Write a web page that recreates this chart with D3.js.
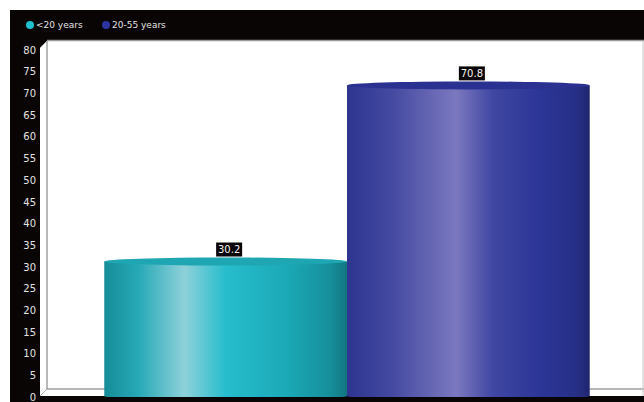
<!DOCTYPE html>
<html>
<head>
<meta charset="utf-8">
<script src="https://cdn.jsdelivr.net/npm/d3@7"></script>
<style>
  html, body { margin: 0; padding: 0; background: #ffffff; }
  svg { display: block; }
</style>
</head>
<body>
<svg id="chart" width="644" height="402"></svg>
<script>
// Age groups and their values
const categories = ["<20 years", "20-55 years"];
const values = [30.2, 70.8];
const yTicks = [0, 5, 10, 15, 20, 25, 30, 35, 40, 45, 50, 55, 60, 65, 70, 75, 80];

const W = 644, H = 402;
const depth = 7;           // 3D depth offset of the plot box
const svg = d3.select("#chart");

// Scales
const y = d3.scaleLinear().domain([0, 80]).range([396, 49]);
const x = d3.scaleBand().domain(categories).range([46, 648]).paddingInner(0).paddingOuter(0.24);

const color = d3.scaleOrdinal().domain(categories).range(["#1fb5c4", "#2c3494"]);

const defs = svg.append("defs");
const gradStops = {
  "<20 years": [
    [0, "#168c98"], [0.14, "#26a9b6"], [0.33, "#8ed1da"], [0.5, "#27bdcc"],
    [0.75, "#1ba9b7"], [0.93, "#168f9b"], [1, "#117581"]
  ],
  "20-55 years": [
    [0, "#2d3590"], [0.18, "#4349a0"], [0.45, "#7b78bf"], [0.6, "#4047a2"],
    [0.8, "#2b3596"], [0.94, "#273087"], [1, "#1f2670"]
  ]
};
categories.forEach((c, i) => {
  const g = defs.append("linearGradient")
    .attr("id", "cyl" + i)
    .attr("x1", "0%").attr("x2", "100%").attr("y1", "0%").attr("y2", "0%");
  gradStops[c].forEach(s => g.append("stop").attr("offset", s[0]).attr("stop-color", s[1]));
});

// Dark frame
svg.append("rect").attr("x", 10).attr("y", 10).attr("width", W - 10).attr("height", H - 10).attr("fill", "#0a0505");

// Plot box: back wall, side wall and floor
const backLeft = 47, backTop = 41, backBottom = 389;
const frontLeft = 40, frontTop = 48, frontBottom = 396;
svg.append("path")
  .attr("d", `M${frontLeft},${frontTop} L${backLeft},${backTop} L${W},${backTop} L${W},${frontBottom} L${frontLeft},${frontBottom} Z`)
  .attr("fill", "#ffffff");
svg.append("line").attr("x1", backLeft).attr("y1", backTop - 0.5).attr("x2", W).attr("y2", backTop - 0.5)
  .attr("stroke", "#9a9a9a").attr("stroke-width", 1.5);
svg.append("line").attr("x1", backLeft).attr("y1", backTop).attr("x2", backLeft).attr("y2", backBottom)
  .attr("stroke", "#a0a0a0").attr("stroke-width", 1.5);
svg.append("line").attr("x1", backLeft).attr("y1", backBottom).attr("x2", W).attr("y2", backBottom)
  .attr("stroke", "#a0a0a0").attr("stroke-width", 1.5);
svg.append("line").attr("x1", frontLeft).attr("y1", frontTop).attr("x2", backLeft).attr("y2", backTop)
  .attr("stroke", "#b0b0b0").attr("stroke-width", 1);
svg.append("line").attr("x1", frontLeft).attr("y1", frontBottom).attr("x2", backLeft).attr("y2", backBottom)
  .attr("stroke", "#b0b0b0").attr("stroke-width", 1);
svg.append("line").attr("x1", W - 1).attr("y1", backTop).attr("x2", W - 1).attr("y2", frontBottom)
  .attr("stroke", "#c8c8c8").attr("stroke-width", 1);

// Cylinders
const ry = 4;
const bars = svg.append("g");
categories.forEach((c, i) => {
  const x0 = x(c), bw = x.bandwidth();
  const topY = y(values[i]) - depth / 2;
  const botY = frontBottom;
  const g = bars.append("g");
  g.append("path")
    .attr("d", `M${x0},${topY} L${x0},${botY} A${bw / 2},${ry} 0 0 0 ${x0 + bw},${botY} L${x0 + bw},${topY} Z`)
    .attr("fill", `url(#cyl${i})`);
  g.append("ellipse")
    .attr("cx", x0 + bw / 2).attr("cy", topY)
    .attr("rx", bw / 2).attr("ry", ry)
    .attr("fill", i === 0 ? "#1ea6b3" : "#2a3190");
});

// Value labels
categories.forEach((c, i) => {
  const cx = x(c) + x.bandwidth() / 2 + 3.5;
  const topY = y(values[i]) - depth / 2 - ry;
  const bw = 26, bh = 14;
  svg.append("rect")
    .attr("x", cx - bw / 2).attr("y", topY - bh - 1)
    .attr("width", bw).attr("height", bh)
    .attr("fill", "#0a0505");
  svg.append("text")
    .attr("x", cx).attr("y", topY - bh / 2 - 1)
    .attr("text-anchor", "middle").attr("dominant-baseline", "central")
    .attr("font-family", "DejaVu Sans, sans-serif").attr("font-size", 10)
    .attr("fill", "#f2f2f2")
    .text(values[i].toFixed(1));
});

// Black band along the bottom
svg.append("rect").attr("x", 10).attr("y", 397).attr("width", W - 10).attr("height", 5).attr("fill", "#0a0505");

// Y axis labels
const yAxis = d3.axisLeft(y).tickValues(yTicks).tickSize(0).tickPadding(0);
const ya = svg.append("g").attr("transform", "translate(36,1)").call(yAxis);
ya.select(".domain").remove();
ya.selectAll("text")
  .attr("font-family", "DejaVu Sans, sans-serif").attr("font-size", 10)
  .attr("fill", "#e2e2e2");

// Legend
const legendX = [30, 106];
const legend = svg.append("g");
categories.forEach((c, i) => {
  legend.append("circle").attr("cx", legendX[i]).attr("cy", 25).attr("r", 4).attr("fill", i === 0 ? "#1fc0d0" : "#2c34a4");
  legend.append("text")
    .attr("x", legendX[i] + 6).attr("y", 25)
    .attr("dominant-baseline", "central")
    .attr("font-family", "DejaVu Sans, sans-serif").attr("font-size", 9)
    .attr("fill", "#e2e2e2")
    .text(c);
});
</script>
</body>
</html>
